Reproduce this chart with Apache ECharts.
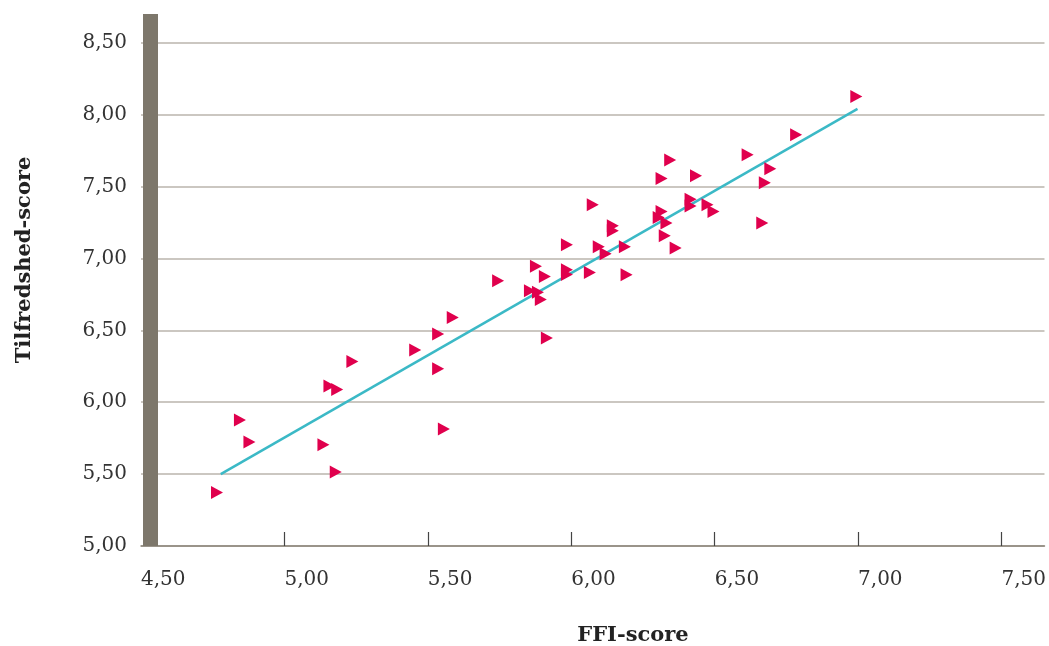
<!DOCTYPE html>
<html>
<head>
<meta charset="utf-8">
<script src="https://cdn.jsdelivr.net/npm/echarts@6/dist/echarts.min.js"></script>
<style>html,body{margin:0;padding:0;background:#fff}#c{width:1049px;height:646px}</style>
</head>
<body>
<div id="c"></div>
<script>
// FFI-score (x) and Tilfredshed-score (y) per point
const ffiScores = [4.765,4.845,4.878,5.136,5.179,5.157,5.184,5.237,5.456,5.536,5.587,5.536,5.556,5.745,5.856,5.884,5.894,5.877,5.908,5.915,5.985,5.985,6.065,6.193,5.985,6.096,6.120,6.145,6.145,6.187,6.075,6.315,6.345,6.435,6.615,6.694,6.675,6.666,6.315,6.305,6.332,6.326,6.364,6.416,6.416,6.475,6.496,6.784,6.994];
const tilfredsScores = [5.372,5.877,5.724,5.705,5.515,6.113,6.089,6.283,6.364,6.475,6.590,6.232,5.814,6.844,6.775,6.764,6.715,6.945,6.875,6.447,6.921,6.889,6.903,6.886,7.095,7.081,7.032,7.227,7.192,7.081,7.373,7.556,7.684,7.575,7.721,7.624,7.526,7.246,7.326,7.285,7.246,7.157,7.072,7.411,7.364,7.373,7.326,7.860,8.127];
// trend line end points
const trendX = [4.778, 6.998];
const trendY = [5.50, 8.04];
// tick labels
const xTicks = [5.0, 5.5, 6.0, 6.5, 7.0, 7.5];
const xLabels = [4.5, 5.0, 5.5, 6.0, 6.5, 7.0, 7.5];
const yTicks = [5.0, 5.5, 6.0, 6.5, 7.0, 7.5, 8.0, 8.5];
const xTitle = 'FFI-score';
const yTitle = 'Tilfredshed-score';

const FONT = "'DejaVu Serif', Georgia, serif";
const fmt = v => v.toFixed(2).replace('.', ',');

const chart = echarts.init(document.getElementById('c'), null, {renderer: 'canvas'});
chart.setOption({
  animation: false,
  backgroundColor: '#ffffff',
  grid: {left: 141, right: 3, top: 14, bottom: 100, containLabel: false},
  xAxis: {
    type: 'value', min: 4.5, max: 7.65,
    axisLine: {show: true, lineStyle: {color: '#8a8478', width: 1.5}},
    axisTick: {show: true, inside: true, length: 14, customValues: xTicks, lineStyle: {color: '#444', width: 1.2}},
    axisLabel: {customValues: xLabels, formatter: fmt, align: 'left', margin: 24, fontFamily: FONT, fontSize: 20, color: '#333'},
    splitLine: {show: false}
  },
  yAxis: [{
    type: 'value', min: 5, max: 8.7, position: 'left',
    axisLine: {show: false},
    axisTick: {show: false, customValues: yTicks},
    axisLabel: {customValues: yTicks, formatter: fmt, margin: 14, fontFamily: FONT, fontSize: 20, color: '#333'},
    splitLine: {show: true, lineStyle: {color: '#bab5ad', width: 1.5}}
  }, {
    type: 'value', min: 5, max: 8.7, position: 'left', offset: -9, z: 5,
    axisLine: {show: true, lineStyle: {color: '#7d776b', width: 15, cap: 'butt'}},
    axisTick: {show: false}, axisLabel: {show: false}, splitLine: {show: false}
  }],
  graphic: [
    {type: 'text', x: 25, y: 260, rotation: Math.PI / 2,
     style: {text: yTitle, fontFamily: FONT, fontWeight: 'bold', fontSize: 21, fill: '#222', align: 'center', verticalAlign: 'middle'}},
    {type: 'text', x: 633, y: 636,
     style: {text: xTitle, fontFamily: FONT, fontWeight: 'bold', fontSize: 21, fill: '#222', align: 'center', verticalAlign: 'middle'}}
  ],
  series: [{
    type: 'line',
    data: trendX.map((x, i) => [x, trendY[i]]),
    symbol: 'none',
    lineStyle: {color: '#3bb9c6', width: 2.5},
    z: 2
  }, {
    type: 'scatter',
    data: ffiScores.map((x, i) => [x, tilfredsScores[i]]),
    symbol: 'triangle',
    symbolRotate: -90,
    symbolSize: [13, 12],
    itemStyle: {color: '#e0004d', opacity: 1},
    z: 3
  }]
});
</script>
</body>
</html>
